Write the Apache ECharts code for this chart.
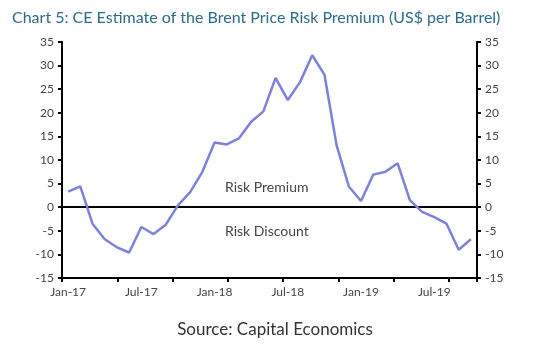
<!DOCTYPE html>
<html>
<head>
<meta charset="utf-8">
<script src="https://cdn.jsdelivr.net/npm/echarts@6/dist/echarts.min.js"></script>
<style>
html,body{margin:0;padding:0;background:#fff;}
#chart{width:550px;height:359px;}
</style>
</head>
<body>
<div id="chart"></div>
<script>
var months = ['Jan-17','Feb-17','Mar-17','Apr-17','May-17','Jun-17','Jul-17','Aug-17','Sep-17','Oct-17','Nov-17','Dec-17',
              'Jan-18','Feb-18','Mar-18','Apr-18','May-18','Jun-18','Jul-18','Aug-18','Sep-18','Oct-18','Nov-18','Dec-18',
              'Jan-19','Feb-19','Mar-19','Apr-19','May-19','Jun-19','Jul-19','Aug-19','Sep-19','Oct-19'];
var riskPremium = [3.3, 4.4, -3.5, -6.8, -8.5, -9.6, -4.2, -5.7, -3.7, 0.4, 3.2, 7.5,
                   13.7, 13.3, 14.6, 18.1, 20.3, 27.4, 22.7, 26.5, 32.2, 28.1, 13.1, 4.4,
                   1.3, 6.9, 7.5, 9.3, 1.5, -1.0, -2.1, -3.5, -9.0, -6.8];
var yTicks = {min: -15, max: 35, step: 5};
var titleText = 'Chart 5: CE Estimate of the Brent Price Risk Premium (US$ per Barrel)';
var sourceText = 'Source: Capital Economics';
var zoneLabels = ['Risk Premium', 'Risk Discount'];

var chart = echarts.init(document.getElementById('chart'), null, {renderer: 'canvas'});
var gridBox = {left: 62, right: 73, top: 42, bottom: 81};
var axisFont = {fontFamily: 'Lato', fontSize: 12, color: '#444'};
var option = {
  animation: false,
  backgroundColor: '#fff',
  title: {
    text: titleText, left: 7, top: 5,
    textStyle: {fontFamily: 'Lato', fontSize: 16, fontWeight: 'normal', color: '#2d6a8b'}
  },
  grid: [
    Object.assign({}, gridBox),
    Object.assign({}, gridBox)
  ],
  xAxis: [
    {
      type: 'category', gridIndex: 0, data: months, boundaryGap: true,
      axisLine: {onZero: false, lineStyle: {color: '#000', width: 2}},
      axisTick: {show: false},
      axisLabel: Object.assign({interval: 5, margin: 8}, axisFont),
      splitLine: {show: false}
    },
    {
      type: 'value', gridIndex: 1, min: 0, max: months.length, interval: 4.53,
      axisLine: {show: false, onZero: false},
      axisTick: {show: true, length: 4, lineStyle: {color: '#000', width: 2}},
      axisLabel: {show: false},
      splitLine: {show: false}
    }
  ],
  yAxis: [
    {
      type: 'value', gridIndex: 0, position: 'left', min: yTicks.min, max: yTicks.max, interval: yTicks.step,
      axisLine: {show: true, lineStyle: {color: '#000', width: 2}},
      axisTick: {show: true, length: 4, lineStyle: {color: '#000', width: 2}},
      axisLabel: Object.assign({margin: 8}, axisFont),
      splitLine: {show: false}
    },
    {
      type: 'value', gridIndex: 0, position: 'right', min: yTicks.min, max: yTicks.max, interval: yTicks.step,
      axisLine: {show: true, lineStyle: {color: '#000', width: 2}},
      axisTick: {show: true, length: 4, lineStyle: {color: '#000', width: 2}},
      axisLabel: Object.assign({margin: 8}, axisFont),
      splitLine: {show: false}
    },
    {
      type: 'value', gridIndex: 1, min: yTicks.min, max: yTicks.max, show: false
    }
  ],
  series: [
    {
      type: 'line', xAxisIndex: 0, yAxisIndex: 0, data: riskPremium,
      symbol: 'none', smooth: false,
      lineStyle: {color: '#7f80dc', width: 2.5},
      z: 3,
      markLine: {
        silent: true, symbol: 'none', label: {show: false},
        lineStyle: {color: '#000', width: 2, type: 'solid'},
        data: [{yAxis: 0}],
        z: 2
      }
    }
  ],
  graphic: [
    {type: 'text', left: 225, top: 180, style: {text: zoneLabels[0], font: '14px Lato', fill: '#444'}},
    {type: 'text', left: 225, top: 224, style: {text: zoneLabels[1], font: '14px Lato', fill: '#444'}},
    {type: 'text', left: 'center', top: 321, style: {text: sourceText, font: '17px Lato', fill: '#333'}}
  ]
};
chart.setOption(option);
</script>
</body>
</html>
